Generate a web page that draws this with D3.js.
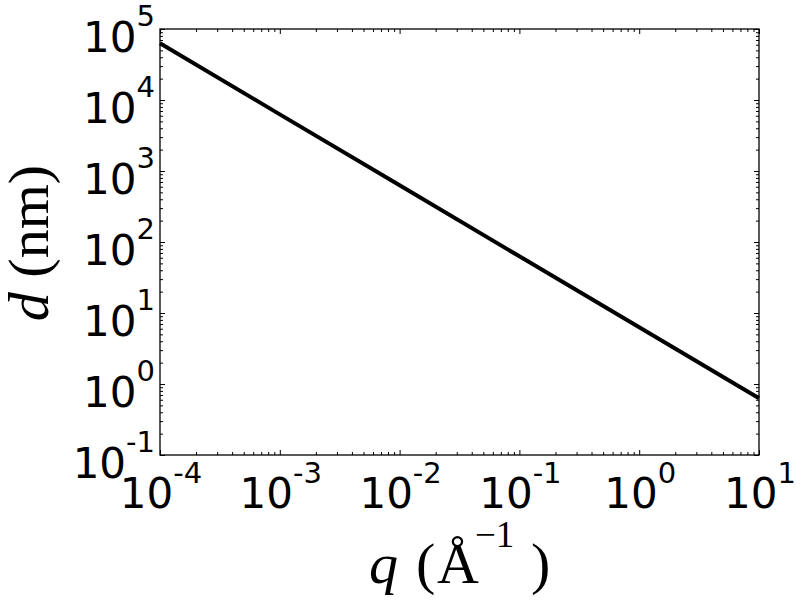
<!DOCTYPE html>
<html>
<head>
<meta charset="utf-8">
<script src="https://cdn.jsdelivr.net/npm/d3@7"></script>
<style>
  html, body { margin: 0; padding: 0; background: #fff; }
  svg { display: block; }
</style>
</head>
<body>
<svg id="chart" width="800" height="600"></svg>
<script>
// ---- data ----
const qValues = [1e-4, 1e-3, 1e-2, 1e-1, 1, 10];          // q (Å^-1)
const dValues = [63000, 6280, 628, 62.8, 6.28, 0.63];     // d (nm)
const xTickExps = [-4, -3, -2, -1, 0, 1];
const yTickExps = [-1, 0, 1, 2, 3, 4, 5];
const xDomain = [1e-4, 10];
const yDomain = [0.1, 1e5];

// ---- layout ----
const L = 160, R = 759, T = 29, B = 455;
const svg = d3.select("#chart");
const x = d3.scaleLog().domain(xDomain).range([L, R]);
const y = d3.scaleLog().domain(yDomain).range([B, T]);

const majorX = xTickExps.map(e => Math.pow(10, e));
const majorY = yTickExps.map(e => Math.pow(10, e));
function minors(exps) {
  const out = [];
  for (let i = 0; i < exps.length - 1; i++)
    for (let m = 2; m <= 9; m++) out.push(m * Math.pow(10, exps[i]));
  return out;
}
const minorX = minors(xTickExps), minorY = minors(yTickExps);

function tickAxis(axisFn, scale, vals, size, transform) {
  const g = svg.append("g").attr("transform", transform)
    .call(axisFn(scale).tickValues(vals).tickSizeInner(-size).tickSizeOuter(0).tickFormat(""));
  g.select(".domain").remove();
  g.selectAll(".tick line").attr("stroke", "#000").attr("stroke-width", 1);
  return g;
}
// bottom/top
tickAxis(d3.axisBottom, x, majorX, 5, `translate(0,${B})`);
tickAxis(d3.axisBottom, x, minorX, 3, `translate(0,${B})`);
tickAxis(d3.axisTop, x, majorX, 5, `translate(0,${T})`);
tickAxis(d3.axisTop, x, minorX, 3, `translate(0,${T})`);
// left/right
tickAxis(d3.axisLeft, y, majorY, 5, `translate(${L},0)`);
tickAxis(d3.axisLeft, y, minorY, 3, `translate(${L},0)`);
tickAxis(d3.axisRight, y, majorY, 5, `translate(${R},0)`);
tickAxis(d3.axisRight, y, minorY, 3, `translate(${R},0)`);

// line
const data = qValues.map((q, i) => ({ q, d: dValues[i] }));
svg.append("path").datum(data)
  .attr("fill", "none").attr("stroke", "#000").attr("stroke-width", 4)
  .attr("stroke-linecap", "butt")
  .attr("d", d3.line().x(p => x(p.q)).y(p => y(p.d)));

// frame
svg.append("rect").attr("x", L).attr("y", T).attr("width", R - L).attr("height", B - T)
  .attr("fill", "none").attr("stroke", "#000").attr("stroke-width", 1.3);

// tick labels
const tickFont = "DejaVu Sans, sans-serif";
function powLabel(xp, yp, anchor, exp) {
  const t = svg.append("text").attr("x", xp).attr("y", yp)
    .attr("text-anchor", anchor).attr("font-family", tickFont).attr("fill", "#000");
  t.append("tspan").attr("font-size", 42).text("10");
  t.append("tspan").attr("font-size", 29).attr("dy", -25.6).text(String(exp));
}
xTickExps.forEach(e => powLabel(x(Math.pow(10, e)) + 1, 508.3, "middle", e));
yTickExps.forEach(e => powLabel(155, y(Math.pow(10, e)) + 22.8, "end", e));

// axis labels
const serif = "Liberation Serif, Times New Roman, serif";
const xl = svg.append("g").attr("font-family", serif).attr("fill", "#000");
xl.append("text").attr("x", 369).attr("y", 583).attr("font-size", 58).attr("font-style", "italic").text("q");
xl.append("text").attr("x", 416).attr("y", 583).attr("font-size", 58).text("(");
xl.append("text").attr("x", 437).attr("y", 583).attr("font-size", 58).text("Å");
xl.append("text").attr("x", 475).attr("y", 547).attr("font-size", 37).text("\u22121");
xl.append("text").attr("x", 531).attr("y", 583).attr("font-size", 58).text(")");

const yl = svg.append("text")
  .attr("transform", "translate(48,243) rotate(-90)")
  .attr("text-anchor", "middle").attr("font-family", serif).attr("font-size", 58).attr("fill", "#000");
yl.append("tspan").attr("font-style", "italic").text("d");
yl.append("tspan").text(" (nm)");
</script>
</body>
</html>
